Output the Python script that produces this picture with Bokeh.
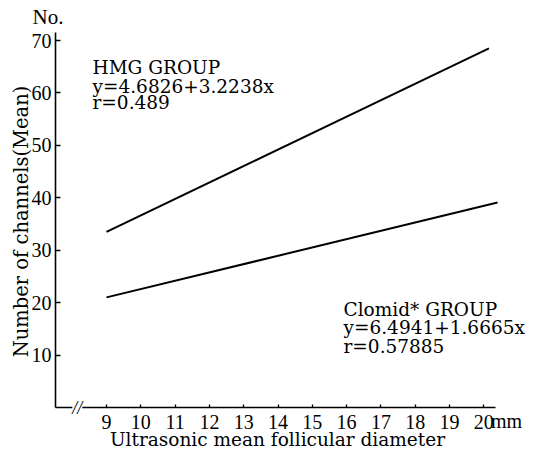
from bokeh.plotting import figure
from bokeh.models import FixedTicker, Label
from bokeh.embed import file_html
from bokeh.resources import INLINE
import math

# ---- data ----
x_ticks = [9, 10, 11, 12, 13, 14, 15, 16, 17, 18, 19, 20]
y_ticks = [10, 20, 30, 40, 50, 60, 70]
hmg_x = [9, 20.15]
hmg_y = [33.5, 68.5]
clomid_x = [9, 20.4]
clomid_y = [21.0, 39.1]
hmg_text = ["HMG GROUP", "y=4.6826+3.2238x", "r=0.489"]
clomid_text = ["Clomid* GROUP", "y=6.4941+1.6665x", "r=0.57885"]
x_title = "Ultrasonic mean follicular diameter"
y_title = "Number of channels(Mean)"
y_unit = "No."
x_unit = "mm"

SERIF = "DejaVu Serif"
TICKF = "Liberation Serif"

X0, X1 = 7.513, 20.34     # axis extents
Y0, Y1 = 0.0, 71.52

p = figure(width=535, height=458,
           x_range=(5.9095, 21.507), y_range=(-9.727, 77.63),
           output_backend="svg", toolbar_location=None,
           min_border=0)
p.outline_line_color = None
p.xgrid.visible = False
p.ygrid.visible = False
p.background_fill_color = "white"
p.border_fill_color = "white"

p.xaxis.ticker = FixedTicker(ticks=x_ticks)
p.yaxis.ticker = FixedTicker(ticks=y_ticks)
p.xaxis.fixed_location = Y0
p.yaxis.fixed_location = X0
p.xaxis.bounds = (X0, X1)
p.yaxis.bounds = (Y0, Y1)
for ax in (p.xaxis, p.yaxis):
    ax.axis_line_color = "black"
    ax.major_tick_line_color = "black"
    ax.minor_tick_line_color = None
    ax.major_tick_out = 0
    ax.major_label_text_font = TICKF
    ax.major_label_text_color = "black"
    ax.major_label_text_font_size = "20px"
p.xaxis.axis_line_width = 1.3
p.yaxis.axis_line_width = 1.6
p.xaxis.major_tick_in = 3
p.yaxis.major_tick_in = 5
p.xaxis.major_tick_line_width = 1.3
p.yaxis.major_tick_line_width = 1.3
p.xaxis.major_label_standoff = 7
p.yaxis.major_label_standoff = 4

p.line(hmg_x, hmg_y, line_color="black", line_width=2)
p.line(clomid_x, clomid_y, line_color="black", line_width=2)


def dlabel(x, y, text, font=SERIF, size="18.5px", **kw):
    kw.setdefault("text_baseline", "alphabetic")
    p.add_layout(Label(x=x, y=y, text=text, text_font=font,
                       text_font_size=size, text_color="black", **kw))


for t, yv in zip(hmg_text, [64.84, 61.22, 58.17]):
    dlabel(8.592, yv, t)
for t, yv in zip(clomid_text, [18.69, 15.25, 11.63]):
    dlabel(15.91, yv, t)

dlabel(13.985, -6.1, x_title, size="18.5px", text_align="center")
dlabel(6.522, 35.48, y_title, size="19.5px", text_align="center",
       angle=math.pi / 2, text_baseline="middle")
dlabel(6.843, 74.57, y_unit, font=TICKF, size="21px")
dlabel(20.21, -2.48, x_unit, font=TICKF, size="20px")
# axis break mark
dlabel(8.15, 0, "//", font=TICKF, size="18px", text_font_style="italic",
       text_align="center", text_baseline="middle",
       background_fill_color="white")

open("out.html", "w").write(file_html(p, INLINE))
